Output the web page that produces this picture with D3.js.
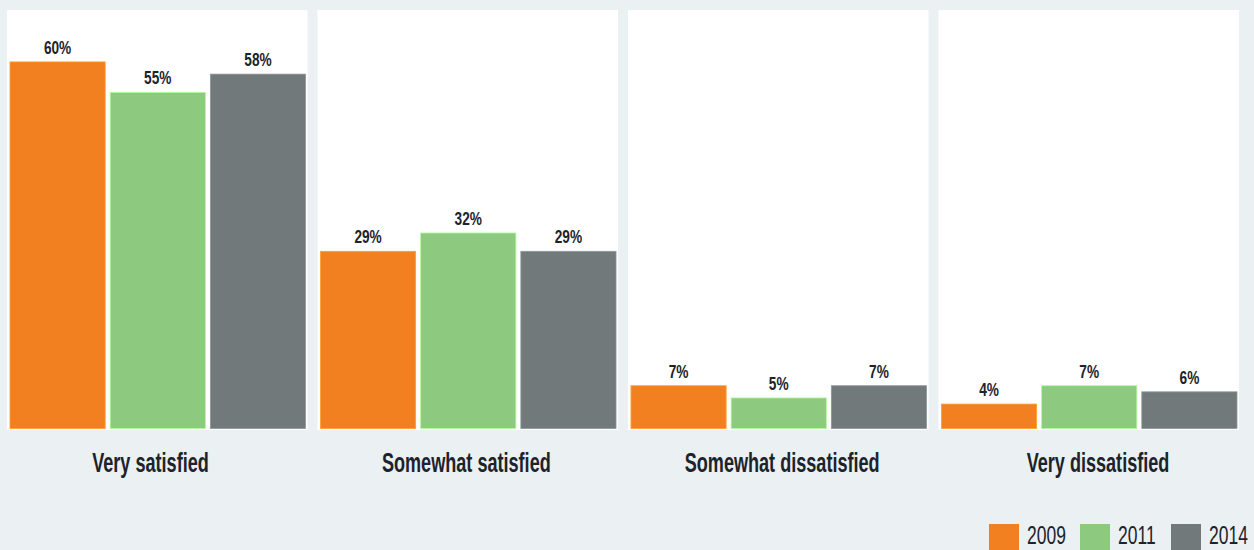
<!DOCTYPE html>
<html>
<head>
<meta charset="utf-8">
<script src="https://cdn.jsdelivr.net/npm/d3@7"></script>
<style>
  html, body { margin: 0; padding: 0; background: #ebf0f3; }
  svg { display: block; }
  text { font-family: "Liberation Sans", Arial, sans-serif; fill: #1d232a; }
</style>
</head>
<body>
<svg id="chart" width="1254" height="550"></svg>
<script>
// Satisfaction responses by survey year
const categories = ["Very satisfied", "Somewhat satisfied", "Somewhat dissatisfied", "Very dissatisfied"];
const years = ["2009", "2011", "2014"];
const values2009 = [60, 29, 7, 4];
const values2011 = [55, 32, 5, 7];
const values2014 = [58, 29, 7, 6];
const seriesValues = [values2009, values2011, values2014];
const colors = ["#f38020", "#8dc97f", "#72797a"];

const svg = d3.select("#chart");

// Panel layout
const panelTop = 10, panelBottom = 430;
const baseline = 428.5;
const x0 = d3.scaleBand().domain(categories).range([7, 1239]).paddingInner(0.032);
const x1 = d3.scaleBand().domain(years).range([3, x0.bandwidth() - 2]).paddingInner(0.05);
const y = d3.scaleLinear().domain([0, 70]).range([baseline, baseline - 6.11 * 70]);
const labelX = d3.scalePoint().domain(categories).range([150.5, 1098]);

const color = d3.scaleOrdinal().domain(years).range(colors);

const rows = categories.map((c, i) => ({
  category: c,
  bars: years.map((yr, j) => ({ year: yr, value: seriesValues[j][i] }))
}));

const panels = svg.selectAll("g.panel")
  .data(rows)
  .join("g")
  .attr("class", "panel")
  .attr("transform", d => `translate(${x0(d.category)},0)`);

panels.append("rect")
  .attr("x", 0)
  .attr("y", panelTop)
  .attr("width", x0.bandwidth())
  .attr("height", panelBottom - panelTop)
  .attr("fill", "#ffffff");

panels.selectAll("rect.bar")
  .data(d => d.bars)
  .join("rect")
  .attr("class", "bar")
  .attr("x", d => x1(d.year))
  .attr("y", d => y(d.value))
  .attr("width", x1.bandwidth())
  .attr("height", d => baseline - y(d.value))
  .attr("fill", d => color(d.year))
  .attr("stroke", d => d3.color(color(d.year)).brighter(0.6))
  .attr("stroke-width", 0.8);

// Value labels above each bar (condensed via horizontal scale)
panels.selectAll("g.vlabel")
  .data(d => d.bars)
  .join("g")
  .attr("class", "vlabel")
  .attr("transform", d => `translate(${x1(d.year) + x1.bandwidth() / 2},${y(d.value) - 8}) scale(0.72,1)`)
  .append("text")
  .attr("text-anchor", "middle")
  .attr("font-size", 19)
  .attr("font-weight", "bold")
  .text(d => d.value + "%");

// Category labels under the panels
svg.selectAll("g.clabel")
  .data(categories)
  .join("g")
  .attr("class", "clabel")
  .attr("transform", d => `translate(${labelX(d)},472) scale(0.67,1)`)
  .append("text")
  .attr("text-anchor", "middle")
  .attr("font-size", 27)
  .attr("font-weight", "bold")
  .text(d => d);

// Legend
const legendX = d3.scalePoint().domain(years).range([989, 1171]);
const legend = svg.selectAll("g.legend")
  .data(years)
  .join("g")
  .attr("class", "legend")
  .attr("transform", d => `translate(${legendX(d)},0)`);

legend.append("rect")
  .attr("x", 0)
  .attr("y", 524)
  .attr("width", 30)
  .attr("height", 30)
  .attr("fill", d => color(d));

legend.append("g")
  .attr("transform", "translate(38,544) scale(0.7,1)")
  .append("text")
  .attr("font-size", 25)
  .text(d => d);
</script>
</body>
</html>
